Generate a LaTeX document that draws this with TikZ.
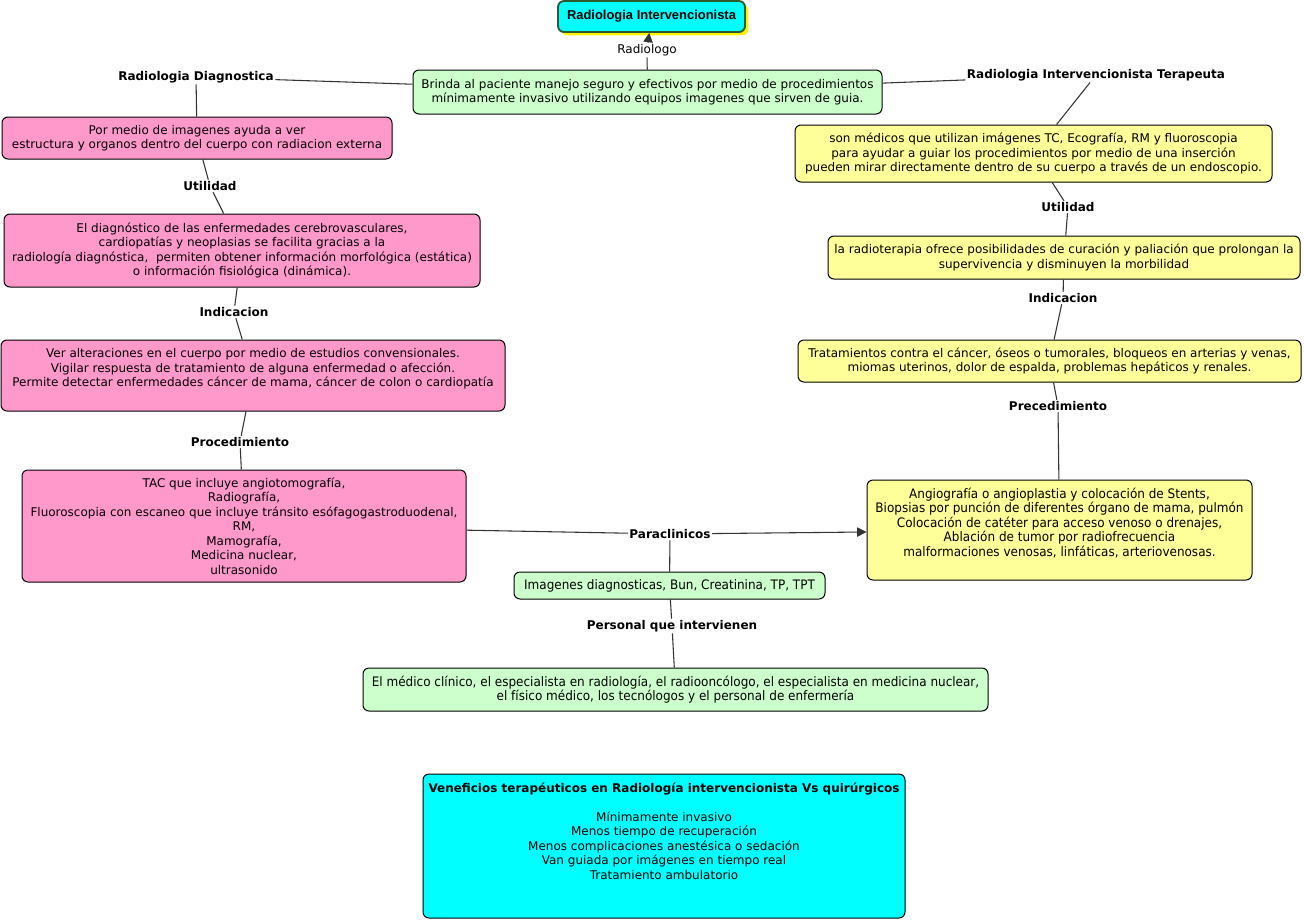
\documentclass[tikz,border=0pt]{standalone}
\usepackage{fontspec}
\setmainfont{DejaVu Sans}
\newfontfamily\condfont[FakeStretch=0.92]{DejaVu Sans}
\newfontfamily\arialfont{Liberation Sans}
\usetikzlibrary{arrows.meta,shadows}
\definecolor{pinkc}{HTML}{FF99CC}
\definecolor{yellowc}{HTML}{FFFF99}
\definecolor{greenc}{HTML}{CCFFCC}
\definecolor{cyanc}{HTML}{00FFFF}
\definecolor{titleborder}{HTML}{2E5A2E}
\definecolor{linec}{HTML}{333333}
\newcommand{\bodyfont}{\fontsize{9pt}{10.9pt}\selectfont}
\newcommand{\condsize}{\fontsize{9.8pt}{10.9pt}\selectfont}
\tikzset{
  sz/.style 2 args={minimum width=#1*0.75pt, minimum height=#2*0.75pt},
  box/.style={draw=black, line width=0.75pt, rounded corners=4.5pt, align=center, inner sep=2pt},
  pinkbox/.style={box, fill=pinkc},
  yellowbox/.style={box, fill=yellowc},
  greenbox/.style={box, fill=greenc},
  cyanbox/.style={box, fill=cyanc},
  condbox/.style={font={\condfont\condsize}},
  lbl/.style={font={\bfseries\bodyfont}, inner sep=1pt},
  plainlbl/.style={font=\bodyfont, inner sep=1pt},
  conn/.style={draw=linec, line width=0.8pt},
  arr/.style={conn, -{Triangle[length=7pt,width=7pt]}},
  toptext/.style={label={[anchor=north, align=center, inner sep=6.5pt]north:{#1}}}
}
\begin{document}
\begin{tikzpicture}[x=0.75pt,y=-0.75pt,font=\bodyfont]
\fill[white] (0,0) rectangle (1304,922);
\useasboundingbox (0,0) rectangle (1304,922);

% title
\node[cyanbox, draw=titleborder, line width=1.4pt, sz={187}{31},
      drop shadow={shadow xshift=2.5pt, shadow yshift=-2.5pt, fill=yellow, opacity=1},
      font={\arialfont\bfseries\fontsize{9.7pt}{11pt}\selectfont}] (title) at (651.5,16.5) {Radiologia Intervencionista};

\node[greenbox, sz={469}{44}] (brinda) at (647.5,92) {Brinda al paciente manejo seguro y efectivos por medio de procedimientos\\ mínimamente invasivo utilizando equipos imagenes que sirven de guia.};

% left column
\node[pinkbox, sz={390}{42}] (pormedio) at (197,138) {Por medio de imagenes ayuda a ver\\estructura y organos dentro del cuerpo con radiacion externa};
\node[pinkbox, sz={476}{73}] (diag) at (242,250.5) {El diagnóstico de las enfermedades cerebrovasculares,\\cardiopatías y neoplasias se facilita gracias a la\\radiología diagnóstica,~ permiten obtener información morfológica (estática)\\o información fisiológica (dinámica).};
\node[pinkbox, sz={504}{71}, toptext={Ver alteraciones en el cuerpo por medio de estudios convensionales.\\Vigilar respuesta de tratamiento de alguna enfermedad o afección.\\ Permite detectar enfermedades cáncer de mama, cáncer de colon o cardiopatía}] (ver) at (253,375.5) {};
\node[pinkbox, sz={444}{112}] (tac) at (244,526) {TAC que incluye angiotomografía,\\Radiografía,\\Fluoroscopia con escaneo que incluye tránsito esófagogastroduodenal,\\RM,\\Mamografía,\\Medicina nuclear,\\ ultrasonido};

% bottom center
\node[greenbox, condbox, sz={311}{27}] (imag) at (669.5,585.5) {Imagenes diagnosticas, Bun, Creatinina, TP, TPT};
\node[greenbox, condbox, sz={625}{43}] (medico) at (675.5,689.5) {El médico clínico, el especialista en radiología, el radiooncólogo, el especialista en medicina nuclear,\\el físico médico, los tecnólogos y el personal de enfermería};

% right column
\node[yellowbox, sz={477}{57}] (son) at (1033.5,153.5) {son médicos que utilizan imágenes TC, Ecografía, RM y fluoroscopia\\para ayudar a guiar los procedimientos por medio de una inserción\\pueden mirar directamente dentro de su cuerpo a través de un endoscopio.};
\node[yellowbox, sz={472}{43}] (radio) at (1064,257.5) {la radioterapia ofrece posibilidades de curación y paliación que prolongan la\\supervivencia y disminuyen la morbilidad};
\node[yellowbox, sz={503}{42}] (trat) at (1049.5,361) {Tratamientos contra el cáncer, óseos o tumorales, bloqueos en arterias y venas,\\miomas uterinos, dolor de espalda, problemas hepáticos y renales.};
\node[yellowbox, sz={385}{100}, label={[anchor=north, align=center, inner sep=6pt, font={\condfont\condsize}]north:{Angiografía o angioplastia y colocación de Stents,\\Biopsias por punción de diferentes órgano de mama, pulmón\\Colocación de catéter para acceso venoso o drenajes,\\Ablación de tumor por radiofrecuencia\\malformaciones venosas, linfáticas, arteriovenosas.}}] (angio) at (1059.5,530) {};

% benefits
\node[cyanbox, sz={482}{144}, label={[anchor=north, align=center, inner sep=6.5pt]north:{\textbf{Veneficios terapéuticos en Radiología intervencionista Vs quirúrgicos}\\[10.9pt]Mínimamente invasivo\\Menos tiempo de recuperación\\Menos complicaciones anestésica o sedación\\Van guiada por imágenes en tiempo real\\Tratamiento ambulatorio}}] (benef) at (664,846) {};

% linking labels
\node[plainlbl] (radiologo) at (647,50) {Radiologo};
\node[lbl] (rd) at (196,77) {Radiologia Diagnostica};
\node[lbl] (rit) at (1096,75) {Radiologia Intervencionista Terapeuta};
\node[lbl] (utilL) at (210,186) {Utilidad};
\node[lbl] (indL) at (234,312) {Indicacion};
\node[lbl] (procL) at (240,442) {Procedimiento};
\node[lbl] (para) at (670,534) {Paraclinicos};
\node[lbl] (pers) at (672,626) {Personal que intervienen};
\node[lbl] (utilR) at (1068,207) {Utilidad};
\node[lbl] (indR) at (1063,298) {Indicacion};
\node[lbl] (precR) at (1058,406) {Precedimiento};

% connectors
\draw[conn] (brinda) -- (radiologo);
\draw[arr] (radiologo) -- (title);
\draw[conn] (brinda) -- (rd);
\draw[conn] (rd) -- (pormedio);
\draw[conn] (brinda) -- (rit);
\draw[conn] (rit) -- (son);
\draw[conn] (pormedio) -- (utilL);
\draw[conn] (utilL) -- (diag);
\draw[conn] (diag) -- (indL);
\draw[conn] (indL) -- (ver);
\draw[conn] (ver) -- (procL);
\draw[conn] (procL) -- (tac);
\draw[conn] (tac) -- (para);
\draw[arr] (para) -- (angio);
\draw[conn] (para) -- (imag);
\draw[conn] (imag) -- (pers);
\draw[conn] (pers) -- (medico);
\draw[conn] (son) -- (utilR);
\draw[conn] (utilR) -- (radio);
\draw[conn] (radio) -- (indR);
\draw[conn] (indR) -- (trat);
\draw[conn] (trat) -- (precR);
\draw[conn] (precR) -- (angio);
\end{tikzpicture}
\end{document}
